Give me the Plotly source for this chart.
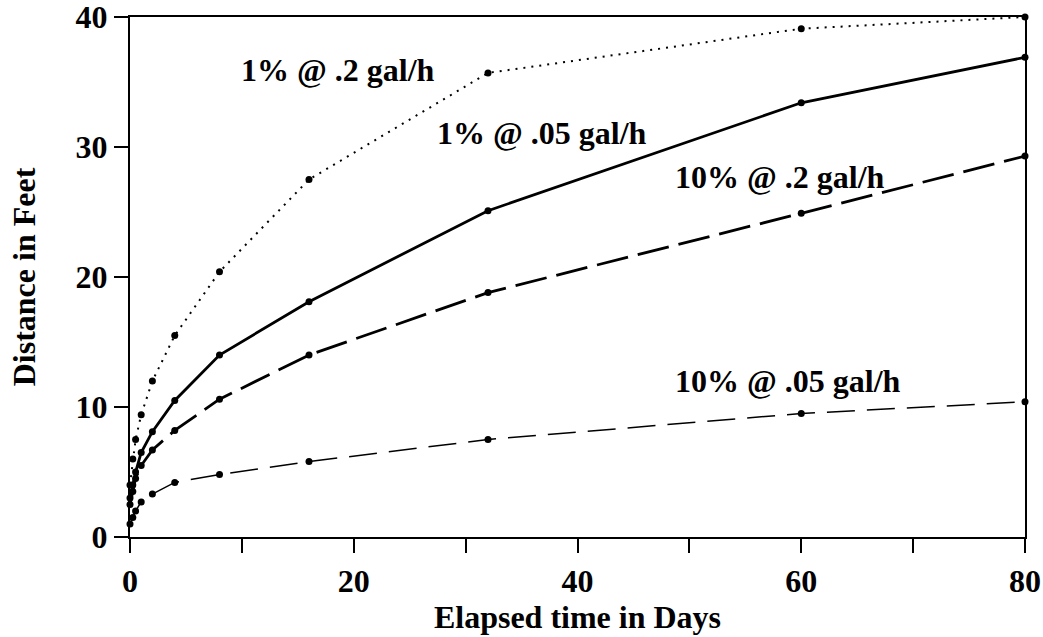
import plotly.graph_objects as go

# Elapsed time (days) at which distances were measured
days = [0, 0.25, 0.5, 1, 2, 4, 8, 16, 32, 60, 80]

# Distance (feet) for each concentration / application rate
dist_1pct_02 = [4.0, 6.0, 7.5, 9.4, 12.0, 15.5, 20.4, 27.5, 35.7, 39.1, 40.0]
dist_1pct_005 = [3.0, 4.0, 5.0, 6.5, 8.1, 10.5, 14.0, 18.1, 25.1, 33.4, 36.9]
dist_10pct_02 = [2.5, 3.5, 4.5, 5.5, 6.7, 8.2, 10.6, 14.0, 18.8, 24.9, 29.3]
dist_10pct_005 = [1.0, 1.5, 2.0, 2.7, 3.3, 4.2, 4.8, 5.8, 7.5, 9.5, 10.4]

series_names = ["1% @ .2 gal/h", "1% @ .05 gal/h", "10% @ .2 gal/h", "10% @ .05 gal/h"]
label_x = [18.6, 36.8, 58.1, 58.8]
label_y = [35.9, 31.1, 27.7, 12.0]

x_ticks = [0, 20, 40, 60, 80]
y_ticks = [0, 10, 20, 30, 40]

FONT = "Liberation Serif"
TEXT_SIZE = 32

series = [dist_1pct_02, dist_1pct_005, dist_10pct_02, dist_10pct_005]
styles = [
    dict(dash="2px,6px", width=2.0),
    dict(dash="solid", width=2.8),
    dict(dash="32px,10px", width=2.8),
    dict(dash="28px,12px", width=1.5),
]

fig = go.Figure()
for name, ys, st in zip(series_names, series, styles):
    fig.add_trace(go.Scatter(
        x=days, y=ys, name=name, mode="lines+markers",
        line=dict(color="black", width=st["width"], dash=st["dash"]),
        marker=dict(color="black", size=7),
        cliponaxis=False,
        showlegend=False,
    ))

for name, lx, ly in zip(series_names, label_x, label_y):
    fig.add_annotation(
        x=lx, y=ly, text=name, showarrow=False,
        font=dict(family=FONT, size=TEXT_SIZE, color="black", weight="bold"),
    )

axis_common = dict(
    showline=True, linecolor="black", linewidth=2.4, mirror=True,
    showgrid=False, zeroline=False,
    ticks="outside", tickcolor="black", tickwidth=2.2, ticklen=14,
    ticklabeloverflow="allow",
    tickfont=dict(family=FONT, size=TEXT_SIZE, color="black", weight="bold"),
)

fig.update_xaxes(
    range=[0, 80], tickvals=x_ticks,
    minor=dict(dtick=10, ticks="outside", ticklen=14, tickwidth=2.2, tickcolor="black"),
    title=dict(text="Elapsed time in Days",
               font=dict(family=FONT, size=TEXT_SIZE, color="black", weight="bold"),
               standoff=7),
    **axis_common,
)
fig.update_yaxes(
    range=[0, 40], tickvals=y_ticks,
    title=dict(text="Distance in Feet",
               font=dict(family=FONT, size=TEXT_SIZE, color="black", weight="bold"),
               standoff=30),
    **axis_common,
)

fig.update_layout(
    width=1043, height=637,
    margin=dict(l=130, r=18, t=17, b=100, autoexpand=False),
    paper_bgcolor="white", plot_bgcolor="white",
)

fig.write_html("out.html")
